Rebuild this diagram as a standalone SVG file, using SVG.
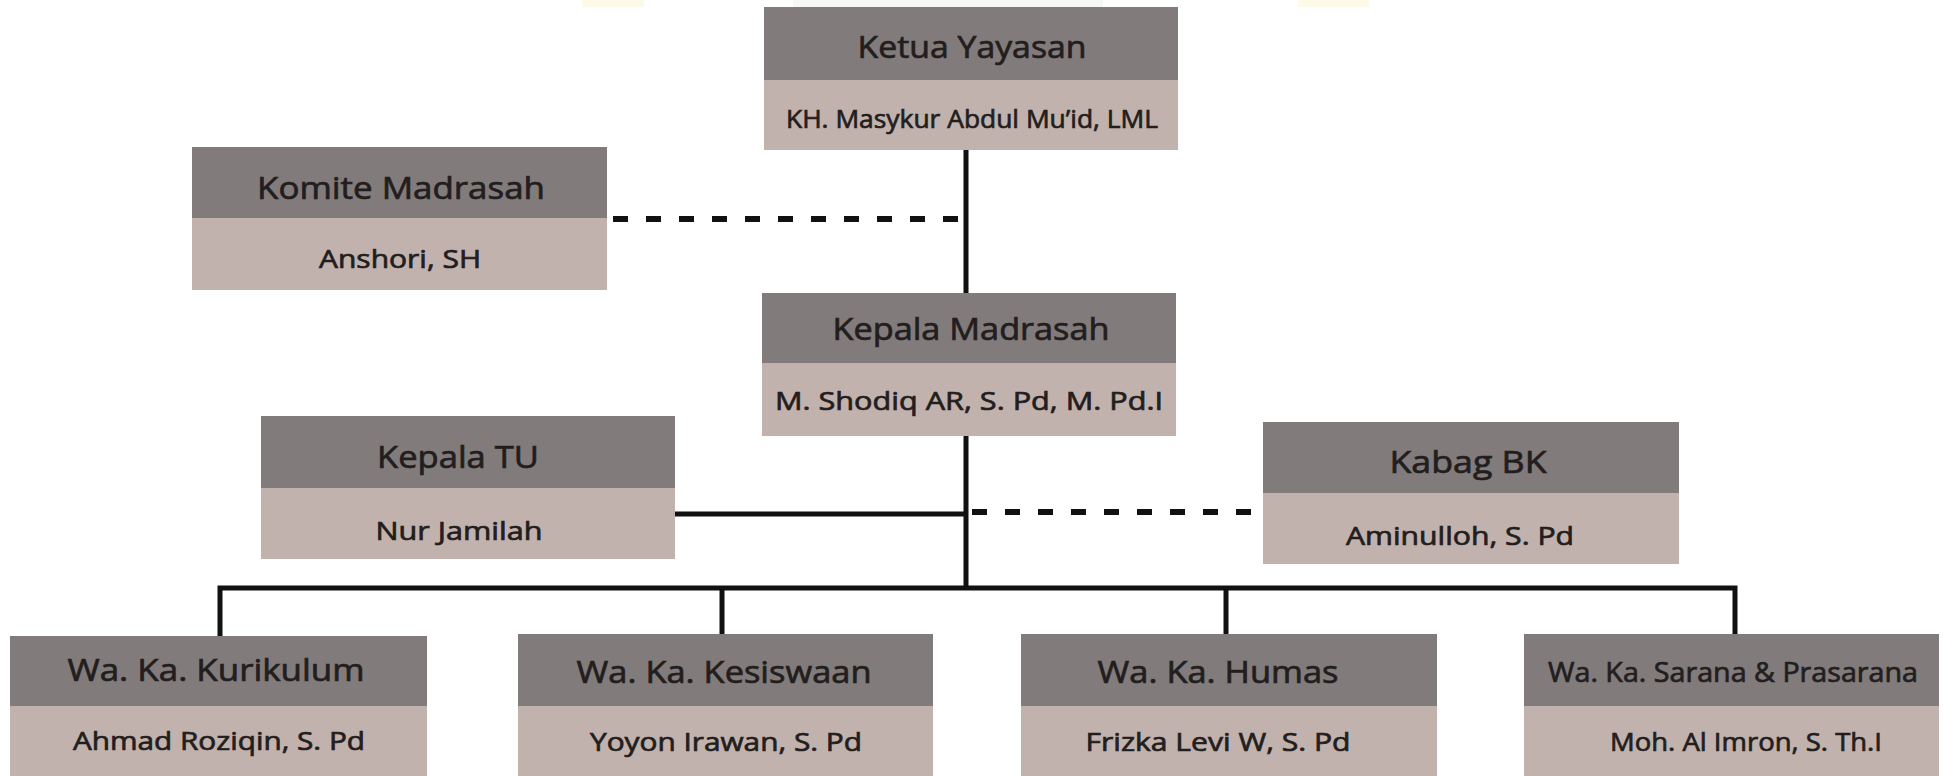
<svg xmlns="http://www.w3.org/2000/svg" width="1943" height="776" viewBox="0 0 1943 776">
<style>
.hd{fill:#817b7b}
.bd{fill:#c2b2ad}
.t{font-family:"Open Sans","Noto Sans","DejaVu Sans",sans-serif;fill:#231e1e;stroke:#231e1e;stroke-width:0.7;text-anchor:middle}
.h{font-size:31px}
.n{font-size:26px}
.ln{stroke:#111;stroke-width:5;fill:none}
.ds{stroke:#111;stroke-width:6;fill:none;stroke-dasharray:15 18}
</style>
<rect width="1943" height="776" fill="#ffffff"/>
<g id="bg-band" opacity="0.6">
<rect x="582" y="0" width="62" height="7" fill="#fbf6dc"/>
<rect x="793" y="0" width="310" height="7" fill="#eef4ec"/>
<rect x="1298" y="0" width="71" height="7" fill="#fbf6dc"/>
</g>
<g id="connectors">
<line class="ln" x1="966" y1="150" x2="966" y2="293"/>
<line class="ds" x1="613" y1="219" x2="966" y2="219"/>
<line class="ln" x1="966" y1="436" x2="966" y2="590"/>
<line class="ln" x1="675" y1="514" x2="966" y2="514"/>
<line class="ds" x1="972" y1="512" x2="1263" y2="512"/>
<path class="ln" d="M220 636 V588 H1735 V636"/>
<line class="ln" x1="722" y1="588" x2="722" y2="636"/>
<line class="ln" x1="1226" y1="588" x2="1226" y2="636"/>
</g>
<g id="ketua-yayasan">
<rect class="hd" x="764" y="7" width="414" height="73"/>
<rect class="bd" x="764" y="80" width="414" height="70"/>
<text class="t h" x="972" y="58" textLength="229" lengthAdjust="spacingAndGlyphs">Ketua Yayasan</text>
<text class="t n" x="972" y="128" textLength="372" lengthAdjust="spacingAndGlyphs">KH. Masykur Abdul Mu’id, LML</text>
</g>
<g id="komite-madrasah">
<rect class="hd" x="192" y="147" width="415" height="71"/>
<rect class="bd" x="192" y="218" width="415" height="72"/>
<text class="t h" x="401" y="199" textLength="288" lengthAdjust="spacingAndGlyphs">Komite Madrasah</text>
<text class="t n" x="400" y="268" textLength="162" lengthAdjust="spacingAndGlyphs">Anshori, SH</text>
</g>
<g id="kepala-madrasah">
<rect class="hd" x="762" y="293" width="414" height="70"/>
<rect class="bd" x="762" y="363" width="414" height="73"/>
<text class="t h" x="971" y="340" textLength="277" lengthAdjust="spacingAndGlyphs">Kepala Madrasah</text>
<text class="t n" x="969" y="410" textLength="388" lengthAdjust="spacingAndGlyphs">M. Shodiq AR, S. Pd, M. Pd.I</text>
</g>
<g id="kepala-tu">
<rect class="hd" x="261" y="416" width="414" height="72"/>
<rect class="bd" x="261" y="488" width="414" height="71"/>
<text class="t h" x="458" y="468" textLength="162" lengthAdjust="spacingAndGlyphs">Kepala TU</text>
<text class="t n" x="459" y="540" textLength="167" lengthAdjust="spacingAndGlyphs">Nur Jamilah</text>
</g>
<g id="kabag-bk">
<rect class="hd" x="1263" y="422" width="416" height="71"/>
<rect class="bd" x="1263" y="493" width="416" height="71"/>
<text class="t h" x="1468" y="473" textLength="157" lengthAdjust="spacingAndGlyphs">Kabag BK</text>
<text class="t n" x="1460" y="545" textLength="228" lengthAdjust="spacingAndGlyphs">Aminulloh, S. Pd</text>
</g>
<g id="waka-kurikulum">
<rect class="hd" x="10" y="636" width="417" height="70"/>
<rect class="bd" x="10" y="706" width="417" height="70"/>
<text class="t h" x="216" y="681" textLength="297" lengthAdjust="spacingAndGlyphs">Wa. Ka. Kurikulum</text>
<text class="t n" x="219" y="750" textLength="292" lengthAdjust="spacingAndGlyphs">Ahmad Roziqin, S. Pd</text>
</g>
<g id="waka-kesiswaan">
<rect class="hd" x="518" y="634" width="415" height="72"/>
<rect class="bd" x="518" y="706" width="415" height="70"/>
<text class="t h" x="724" y="683" textLength="295" lengthAdjust="spacingAndGlyphs">Wa. Ka. Kesiswaan</text>
<text class="t n" x="726" y="751" textLength="272" lengthAdjust="spacingAndGlyphs">Yoyon Irawan, S. Pd</text>
</g>
<g id="waka-humas">
<rect class="hd" x="1021" y="634" width="416" height="72"/>
<rect class="bd" x="1021" y="706" width="416" height="70"/>
<text class="t h" x="1218" y="683" textLength="241" lengthAdjust="spacingAndGlyphs">Wa. Ka. Humas</text>
<text class="t n" x="1218" y="751" textLength="265" lengthAdjust="spacingAndGlyphs">Frizka Levi W, S. Pd</text>
</g>
<g id="waka-sarana">
<rect class="hd" x="1524" y="634" width="415" height="72"/>
<rect class="bd" x="1524" y="706" width="415" height="70"/>
<text class="t" x="1733" y="682" font-size="27" textLength="370" lengthAdjust="spacingAndGlyphs">Wa. Ka. Sarana &amp; Prasarana</text>
<text class="t n" x="1746" y="751" textLength="272" lengthAdjust="spacingAndGlyphs">Moh. Al Imron, S. Th.I</text>
</g>
</svg>
